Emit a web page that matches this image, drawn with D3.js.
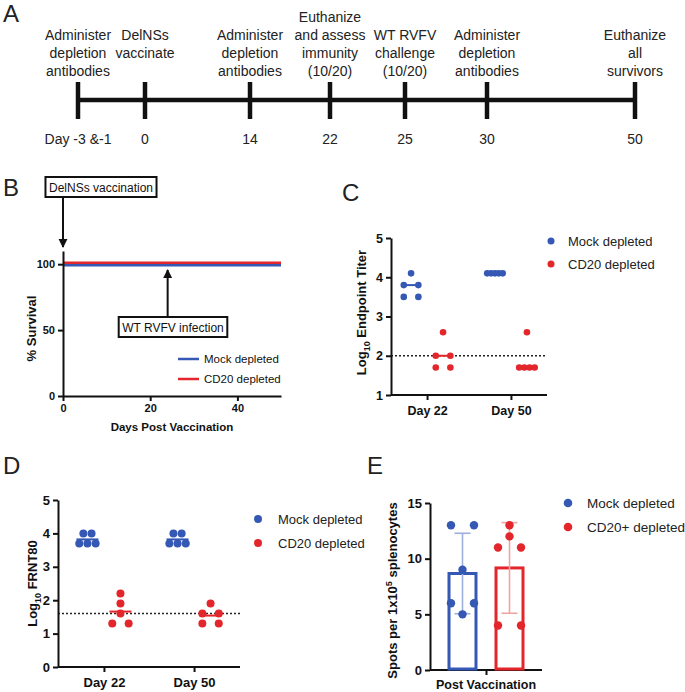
<!DOCTYPE html>
<html><head><meta charset="utf-8">
<script src="https://cdn.jsdelivr.net/npm/d3@7"></script>
<style>
html,body{margin:0;padding:0;background:#fff;}
svg{display:block;font-family:"Liberation Sans",Arial,Helvetica,sans-serif;}
</style></head>
<body>
<svg id="fig" width="685" height="692"></svg>
<script>
// ---------------- DATA ----------------
// Panel A: timeline
const timelineDays = [-2, 0, 14, 22, 25, 30, 50];
const timelineDayLabels = ["Day -3 &-1", "0", "14", "22", "25", "30", "50"];
const timelineEvents = [
  ["Administer", "depletion", "antibodies"],
  ["DelNSs", "vaccinate"],
  ["Administer", "depletion", "antibodies"],
  ["Euthanize", "and assess", "immunity", "(10/20)"],
  ["WT RVFV", "challenge", "(10/20)"],
  ["Administer", "depletion", "antibodies"],
  ["Euthanize", "all", "survivors"]
];
// Panel B: survival
const survivalDays = [0, 50];
const mockSurvival = [100, 100];
const cd20Survival = [100, 100];
const vaccinationDay = 0;
const challengeDay = 24;
const survivalTicksX = [0, 20, 40];
const survivalTicksY = [0, 50, 100];
// Panel C: endpoint titer (log10)
const timepoints = ["Day 22", "Day 50"];
const titerMockDay22 = [4.1, 3.8, 3.8, 3.5, 3.5];
const titerCD20Day22 = [2.6, 2.0, 2.0, 1.7, 1.7];
const titerMockDay50 = [4.1, 4.1, 4.1, 4.1, 4.1];
const titerCD20Day50 = [2.6, 1.7, 1.7, 1.7, 1.7];
const titerLimit = 2.0;
const titerTicks = [1, 2, 3, 4, 5];
// Panel D: FRNT80 (log10)
const frntMockDay22 = [4.0, 4.0, 3.7, 3.7, 3.7];
const frntCD20Day22 = [2.2, 1.9, 1.6, 1.3, 1.3];
const frntMockDay50 = [4.0, 4.0, 3.7, 3.7, 3.7];
const frntCD20Day50 = [1.9, 1.6, 1.6, 1.3, 1.3];
const frntLimit = 1.6;
const frntTicks = [0, 1, 2, 3, 4, 5];
// Panel E: ELISpot
const elispotGroups = ["Mock depleted", "CD20+ depleted"];
const spotsMock = [13, 13, 9, 6, 6, 5];
const spotsCD20 = [13, 12, 11, 11, 4, 4];
const spotsTicks = [0, 5, 10, 15];
const groups = ["Mock depleted", "CD20 depleted"];

// ---------------- STYLE ----------------
const BLUE = "#3458b4", RED = "#e3262b";
const BLUE_LIGHT = "#9cb0de", RED_LIGHT = "#f2a3a5";
const INK = "#111";
const svg = d3.select("#fig");
svg.append("rect").attr("width", 685).attr("height", 692).attr("fill", "#fff");

function panelLabel(t, x, y) {
  svg.append("text").attr("x", x).attr("y", y).attr("font-size", 24)
    .attr("fill", "#222").text(t);
}
function styleAxis(g, fs) {
  g.select(".domain").attr("stroke", INK).attr("stroke-width", 2);
  g.selectAll(".tick line").attr("stroke", INK).attr("stroke-width", 2);
  g.selectAll(".tick text").attr("fill", INK).attr("font-size", fs)
    .attr("font-weight", "bold").attr("font-family", "Liberation Sans, Arial, sans-serif");
}

// swarm layout of equal values into rows
function swarm(values, y, s, maxW) {
  const rows = d3.groups(values, v => v);
  const out = [];
  rows.forEach(([v, pts]) => {
    const n = pts.length;
    let w;
    if (n === 1) w = 0;
    else if (n % 2 === 0) {
      const interleave = rows.some(([v2, p2]) => v2 !== v && Math.abs(y(v2) - y(v)) < 14 && p2.length % 2 === 1 && p2.length >= 3);
      w = interleave ? (n - 1) * s : n * s;
    } else w = (n - 1) * s;
    w = Math.min(w, maxW);
    pts.forEach((p, k) => out.push({ v, dx: n === 1 ? 0 : -w / 2 + k * w / (n - 1) }));
  });
  return out;
}

// ---------------- PANEL A ----------------
panelLabel("A", 3, 22);
const xA = d3.scaleLinear().domain(timelineDays).range([78, 145, 250, 330, 405, 487, 635]);
const gA = svg.append("g");
gA.append("line").attr("x1", xA(timelineDays[0])).attr("x2", xA(timelineDays[timelineDays.length - 1]))
  .attr("y1", 100).attr("y2", 100).attr("stroke", "#111").attr("stroke-width", 4.5);
gA.selectAll(".tk").data(timelineDays).join("line")
  .attr("x1", d => xA(d)).attr("x2", d => xA(d)).attr("y1", 82).attr("y2", 119)
  .attr("stroke", "#111").attr("stroke-width", 4.5);
gA.selectAll(".dl").data(timelineDays).join("text")
  .attr("x", d => xA(d)).attr("y", 144).attr("text-anchor", "middle")
  .attr("font-size", 14).attr("fill", "#222").text((d, i) => timelineDayLabels[i]);
timelineEvents.forEach((lines, i) => {
  const start = lines.length >= 4 ? 0 : 1;
  lines.forEach((t, j) => {
    gA.append("text").attr("x", xA(timelineDays[i])).attr("y", 22 + (start + j) * 18)
      .attr("text-anchor", "middle").attr("font-size", 14).attr("fill", "#222").text(t);
  });
});

// ---------------- PANEL B ----------------
panelLabel("B", 3, 196);
const xB = d3.scaleLinear().domain([0, 50]).range([63, 281]);
const yB = d3.scaleLinear().domain([0, 110]).range([396, 251]);
const gB = svg.append("g");
const lineB = d3.line().x(d => xB(d[0])).y(d => yB(d[1]));
gB.append("path").datum(survivalDays.map((d, i) => [d, mockSurvival[i]]))
  .attr("d", lineB).attr("fill", "none").attr("stroke", BLUE).attr("stroke-width", 2.5)
  .attr("transform", "translate(0,1)");
gB.append("path").datum(survivalDays.map((d, i) => [d, cd20Survival[i]]))
  .attr("d", lineB).attr("fill", "none").attr("stroke", RED).attr("stroke-width", 2.5)
  .attr("transform", "translate(0,-1.5)");
const axBy = gB.append("g").attr("transform", `translate(${xB(0)},0)`)
  .call(d3.axisLeft(yB).tickValues(survivalTicksY).tickSize(5).tickSizeOuter(0).tickPadding(3));
styleAxis(axBy, 11);
const axBx = gB.append("g").attr("transform", `translate(0,${yB(0)})`)
  .call(d3.axisBottom(xB).tickValues(survivalTicksX).tickSize(5).tickSizeOuter(0).tickPadding(3));
styleAxis(axBx, 11);
gB.append("text").attr("x", (xB(0) + xB(50)) / 2).attr("y", 431).attr("text-anchor", "middle")
  .attr("font-size", 11.5).attr("font-weight", "bold").attr("fill", INK).text("Days Post Vaccination");
gB.append("text").attr("transform", `translate(36,${(yB(0) + yB(110)) / 2 + 5}) rotate(-90)`)
  .attr("text-anchor", "middle").attr("font-size", 13).attr("font-weight", "bold").attr("fill", INK).text("% Survival");
// arrows
const defs = svg.append("defs");
defs.append("marker").attr("id", "ah").attr("viewBox", "0 0 10 10").attr("refX", 9).attr("refY", 5)
  .attr("markerWidth", 4.5).attr("markerHeight", 5).attr("orient", "auto-start-reverse")
  .attr("markerUnits", "strokeWidth")
  .append("path").attr("d", "M0,0 L10,5 L0,10 Z").attr("fill", "#111");
function annot(text, cx, topY, arrowX, y1, y2) {
  const box = gB.append("rect");
  const t = gB.append("text").attr("x", cx).attr("y", topY + 14.5).attr("text-anchor", "middle")
    .attr("font-size", 12).attr("fill", INK).text(text);
  const w = t.node().getComputedTextLength();
  box.attr("x", cx - w / 2 - 3.5).attr("y", topY).attr("width", w + 7).attr("height", 20)
    .attr("fill", "#fff").attr("stroke", "#111").attr("stroke-width", 2);
  gB.append("line").attr("x1", arrowX).attr("x2", arrowX).attr("y1", y1).attr("y2", y2)
    .attr("stroke", "#111").attr("stroke-width", 2).attr("marker-end", "url(#ah)");
}
annot("DelNSs vaccination", 101, 177, xB(vaccinationDay), 198, 247);
annot("WT RVFV infection", 173, 317, xB(challengeDay), 316, 270);
// legend B
[[groups[0], BLUE], [groups[1], RED]].forEach(([name, c], i) => {
  const y = 359 + i * 20;
  gB.append("line").attr("x1", 178).attr("x2", 199).attr("y1", y).attr("y2", y).attr("stroke", c).attr("stroke-width", 2.5);
  gB.append("text").attr("x", 204).attr("y", y + 4).attr("font-size", 11.5).attr("fill", INK).text(name);
});

// ---------------- generic dot plot ----------------
function dotPanel(opt) {
  const g = svg.append("g");
  const x = d3.scalePoint().domain(timepoints).range(opt.xr).padding(opt.pad);
  const y = d3.scaleLinear().domain(opt.yd).range(opt.yr);
  const off = d3.scalePoint().domain(groups).range([-opt.go, opt.go]);
  g.append("line").attr("x1", opt.xr[0]).attr("x2", opt.xr[1]).attr("y1", y(opt.limit)).attr("y2", y(opt.limit))
    .attr("stroke", "#222").attr("stroke-width", 1.5).attr("stroke-dasharray", "2,2");
  const ax = g.append("g").attr("transform", `translate(${opt.xr[0]},0)`)
    .call(d3.axisLeft(y).tickValues(opt.ticks).tickFormat(d3.format("d")).tickSize(5).tickSizeOuter(0).tickPadding(3));
  styleAxis(ax, opt.fs);
  const bx = g.append("g").attr("transform", `translate(0,${opt.yr[0]})`)
    .call(d3.axisBottom(x).tickSize(5).tickSizeOuter(0).tickPadding(6));
  styleAxis(bx, opt.fs);
  bx.select(".domain").attr("d", `M${opt.xr[0]},0H${opt.xr[1]}`);
  opt.series.forEach(s => {
    const cx0 = x(s.tp) + off(s.grp);
    const center = opt.stat(s.vals);
    g.append("line").attr("x1", cx0 - opt.lw).attr("x2", cx0 + opt.lw).attr("y1", y(center)).attr("y2", y(center))
      .attr("stroke", s.c).attr("stroke-width", 2);
    g.selectAll(null).data(swarm(s.vals, y, opt.s, opt.maxW)).join("circle")
      .attr("cx", d => cx0 + d.dx).attr("cy", d => y(d.v)).attr("r", opt.r).attr("fill", s.c);
  });
  const yt = g.append("text").attr("transform", `translate(${opt.ytx},${(opt.yr[0] + opt.yr[1]) / 2 + opt.yto}) rotate(-90)`)
    .attr("text-anchor", "middle").attr("font-size", 13).attr("font-weight", "bold").attr("fill", INK);
  yt.append("tspan").text("Log");
  yt.append("tspan").attr("font-size", 9).attr("dy", 4).text("10");
  yt.append("tspan").attr("dy", -4).text(" " + opt.title);
  [[groups[0], BLUE], [groups[1], RED]].forEach(([name, c], i) => {
    const ly = opt.leg[1] + i * opt.leg[3];
    g.append("circle").attr("cx", opt.leg[0]).attr("cy", ly).attr("r", opt.lr).attr("fill", c);
    g.append("text").attr("x", opt.leg[2]).attr("y", ly + 4.5).attr("font-size", 13).attr("fill", "#222").text(name);
  });
}

// ---------------- PANEL C ----------------
panelLabel("C", 342, 201);
dotPanel({
  xr: [391, 547], pad: 0.43, yd: [1, 5], yr: [395, 238], ticks: titerTicks, fs: 12.5,
  go: 16, limit: titerLimit, stat: d3.median, lw: 7, r: 3.3, s: 7.3, maxW: 15.5,
  ytx: 366, yto: -4, title: "Endpoint Titer", leg: [551, 241, 568, 23], lr: 3.5,
  series: [
    { tp: "Day 22", grp: groups[0], vals: titerMockDay22, c: BLUE },
    { tp: "Day 22", grp: groups[1], vals: titerCD20Day22, c: RED },
    { tp: "Day 50", grp: groups[0], vals: titerMockDay50, c: BLUE },
    { tp: "Day 50", grp: groups[1], vals: titerCD20Day50, c: RED }
  ]
});

// ---------------- PANEL D ----------------
panelLabel("D", 3, 474);
dotPanel({
  xr: [58, 240], pad: 0.51, yd: [0, 5], yr: [667, 500], ticks: frntTicks, fs: 13,
  go: 16.5, limit: frntLimit, stat: d3.mean, lw: 11, r: 4, s: 8.2, maxW: 20,
  ytx: 37, yto: 0, title: "FRNT80", leg: [258, 519, 278, 24], lr: 4,
  series: [
    { tp: "Day 22", grp: groups[0], vals: frntMockDay22, c: BLUE },
    { tp: "Day 22", grp: groups[1], vals: frntCD20Day22, c: RED },
    { tp: "Day 50", grp: groups[0], vals: frntMockDay50, c: BLUE },
    { tp: "Day 50", grp: groups[1], vals: frntCD20Day50, c: RED }
  ]
});

// ---------------- PANEL E ----------------
panelLabel("E", 367, 474);
(function () {
  const g = svg.append("g");
  const x0 = d3.scalePoint().domain(["Post Vaccination"]).range([430, 542]).padding(0.5);
  const xg = d3.scaleBand().domain(elispotGroups).range([-38.5, 38.5]).paddingInner(0.362).paddingOuter(0);
  const y = d3.scaleLinear().domain([0, 15]).range([670, 503]);
  const ax = g.append("g").attr("transform", "translate(430,0)")
    .call(d3.axisLeft(y).tickValues(spotsTicks).tickSize(5).tickSizeOuter(0).tickPadding(3));
  styleAxis(ax, 13);
  const bx = g.append("g").attr("transform", `translate(0,${y(0)})`)
    .call(d3.axisBottom(x0).tickSize(5).tickSizeOuter(0).tickFormat(""));
  styleAxis(bx, 13);
  bx.select(".domain").attr("d", "M430,0H542");
  const sets = [[elispotGroups[0], spotsMock, BLUE, BLUE_LIGHT], [elispotGroups[1], spotsCD20, RED, RED_LIGHT]];
  sets.forEach(([grp, vals, c, cl]) => {
    const bx0 = x0("Post Vaccination") + xg(grp);
    const bw = xg.bandwidth();
    const cx = bx0 + bw / 2;
    const m = d3.mean(vals), sd = d3.deviation(vals);
    g.append("rect").attr("x", bx0 + 1.5).attr("y", y(m)).attr("width", bw - 3).attr("height", y(0) - y(m) - 1)
      .attr("fill", "none").attr("stroke", c).attr("stroke-width", 3);
    g.append("line").attr("x1", cx).attr("x2", cx).attr("y1", y(m + sd)).attr("y2", y(m - sd))
      .attr("stroke", cl).attr("stroke-width", 1.6);
    [m + sd, m - sd].forEach(v => g.append("line").attr("x1", cx - 8).attr("x2", cx + 8)
      .attr("y1", y(v)).attr("y2", y(v)).attr("stroke", cl).attr("stroke-width", 1.6));
    g.selectAll(null).data(swarm(vals, y, 11.5, 24)).join("circle")
      .attr("cx", d => cx + d.dx).attr("cy", d => y(d.v)).attr("r", 4.2).attr("fill", c);
  });
  g.append("text").attr("x", x0("Post Vaccination")).attr("y", 689).attr("text-anchor", "middle")
    .attr("font-size", 12.5).attr("font-weight", "bold").attr("fill", INK).text("Post Vaccination");
  const yt = g.append("text").attr("transform", `translate(397,${(y(0) + y(15)) / 2 + 4}) rotate(-90)`)
    .attr("text-anchor", "middle").attr("font-size", 13).attr("font-weight", "bold").attr("fill", INK);
  yt.append("tspan").text("Spots per 1x10");
  yt.append("tspan").attr("font-size", 9).attr("dy", -5).text("5");
  yt.append("tspan").attr("dy", 5).text(" splenocytes");
  [[elispotGroups[0], BLUE], [elispotGroups[1], RED]].forEach(([name, c], i) => {
    const ly = 503 + i * 24;
    g.append("circle").attr("cx", 568).attr("cy", ly).attr("r", 4.3).attr("fill", c);
    g.append("text").attr("x", 587).attr("y", ly + 5).attr("font-size", 13.5).attr("fill", "#222").text(name);
  });
})();
</script>
</body></html>
